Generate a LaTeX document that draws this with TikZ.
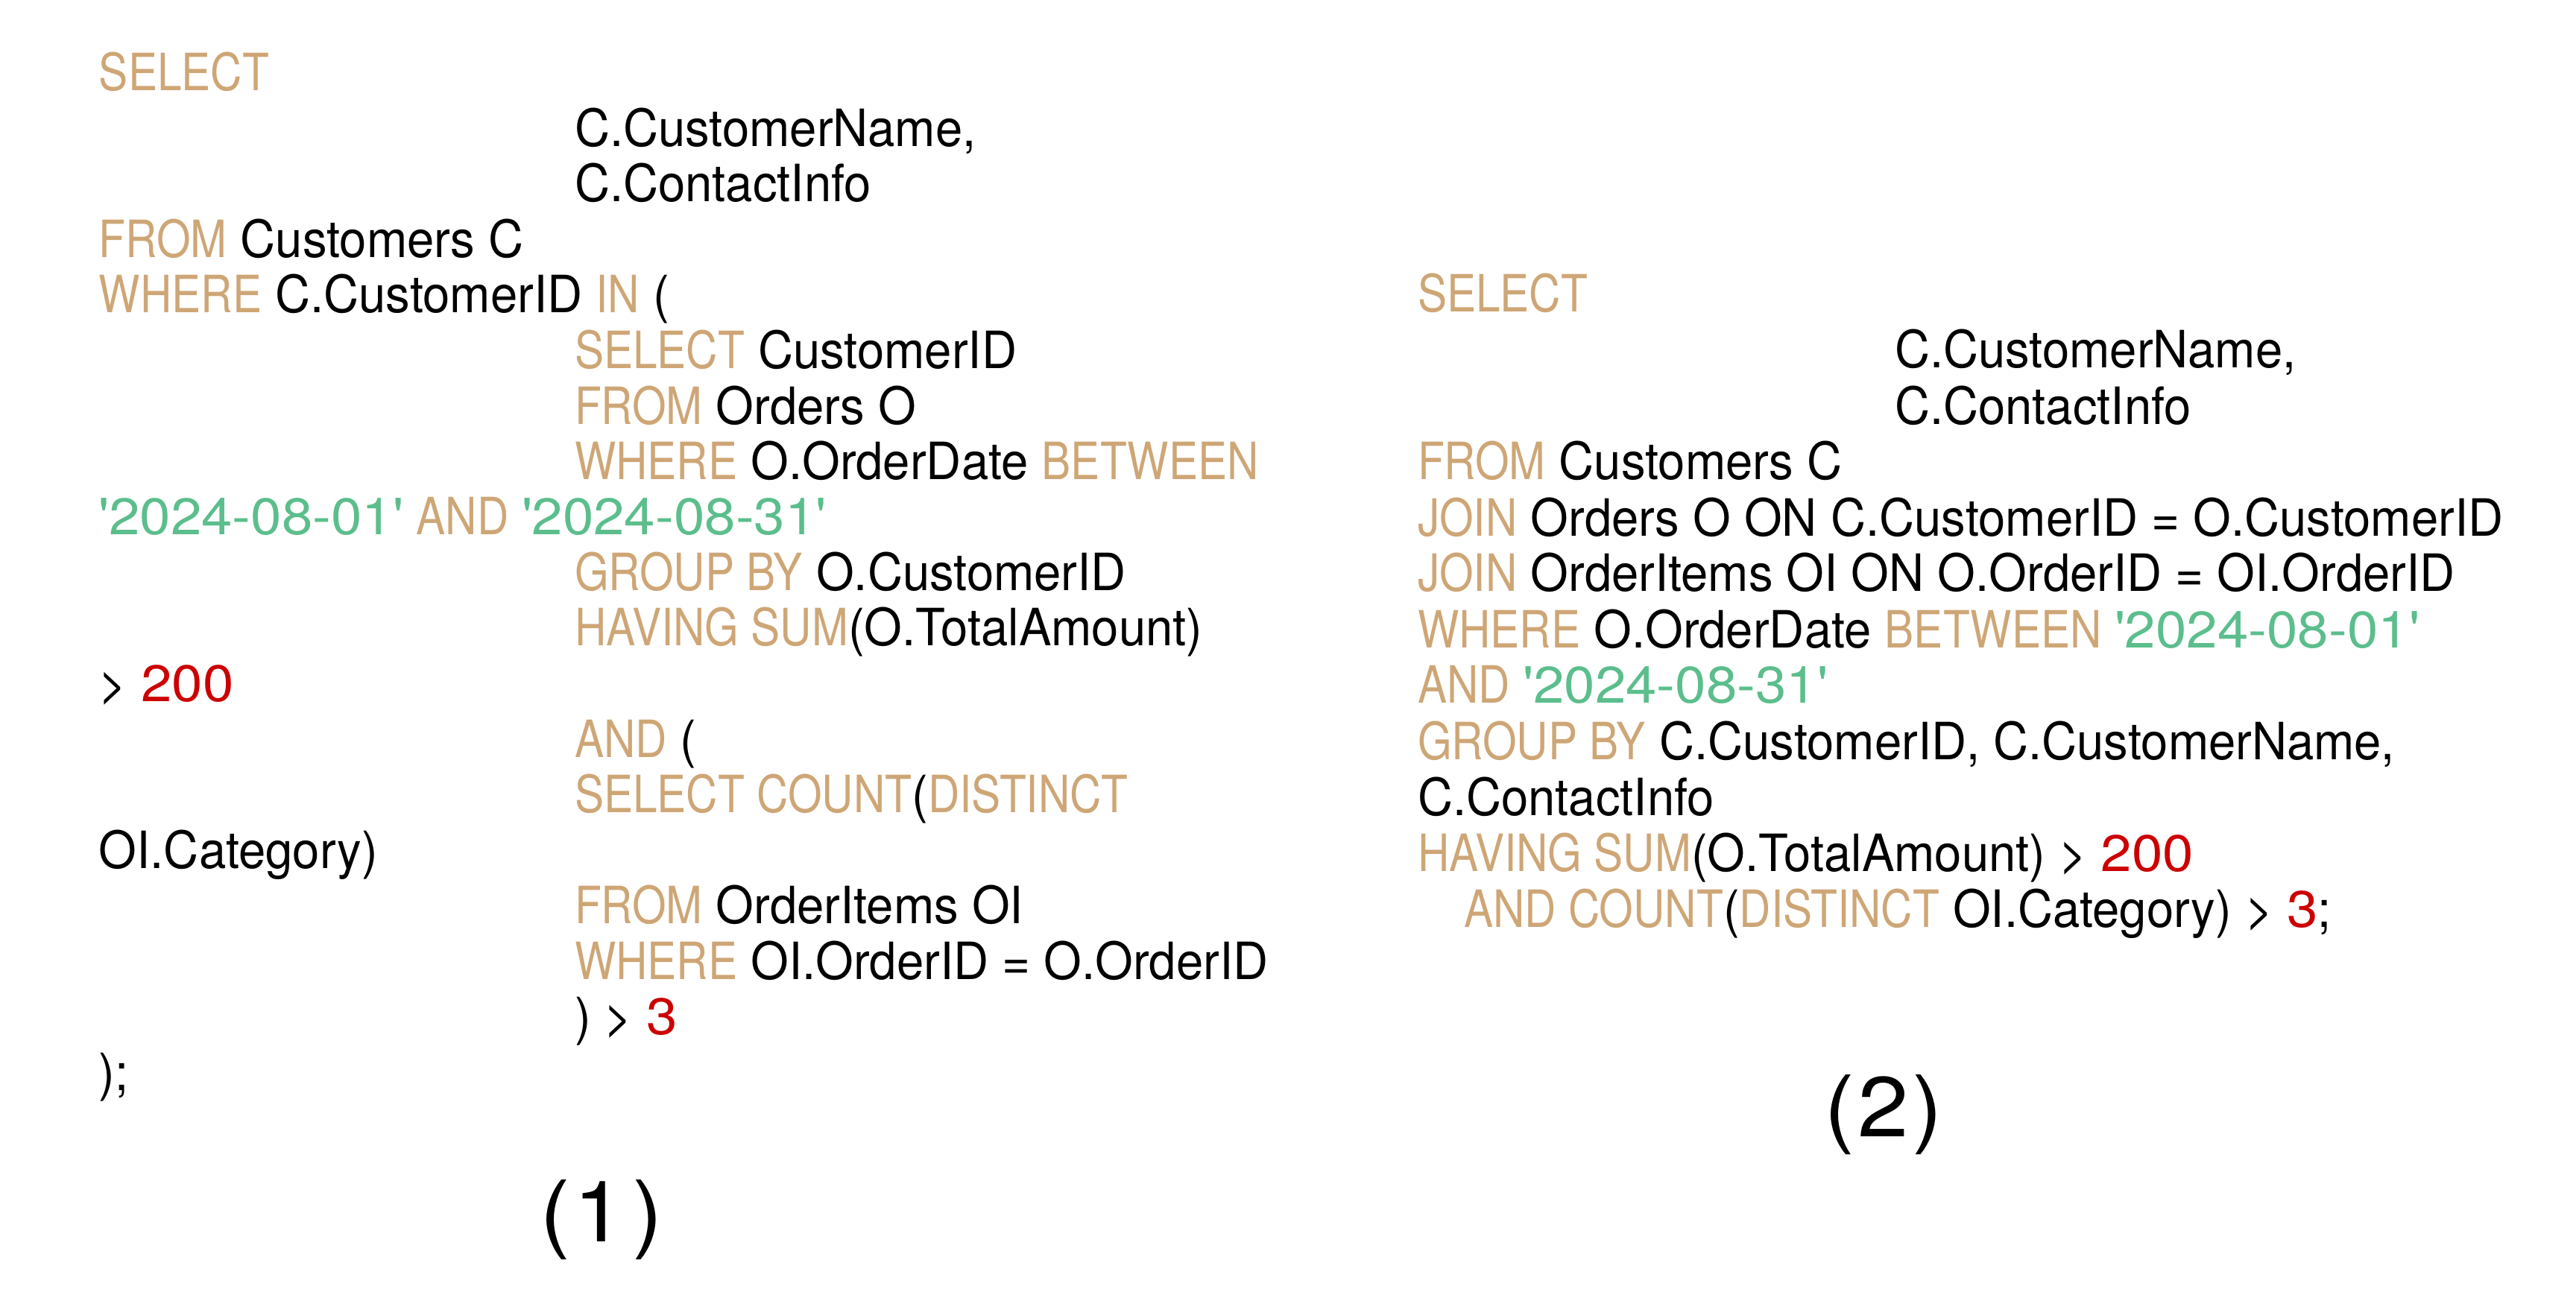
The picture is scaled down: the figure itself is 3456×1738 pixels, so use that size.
\documentclass[tikz,border=0pt]{standalone}
\usepackage{fontspec}
\usepackage{tikz}
\newfontfamily\sqlfont[FakeStretch=0.945]{TeX Gyre Heros}
\newfontfamily\sqlkwfont[FakeStretch=0.85]{TeX Gyre Heros}
\newfontfamily\sqlnumfont[FakeStretch=1.08]{TeX Gyre Heros}
\newfontfamily\tagfont[FakeStretch=1.08]{TeX Gyre Heros}
\definecolor{sqltan}{RGB}{206,166,118}
\definecolor{sqlgreen}{RGB}{91,190,140}
\definecolor{sqlred}{RGB}{204,0,0}
\newcommand{\sqlkw}[1]{{\sqlkwfont\color{sqltan}#1}}
\newcommand{\sqlstr}[1]{{\sqlnumfont\color{sqlgreen}\textquotesingle#1\textquotesingle}}
\newcommand{\sqlnum}[1]{{\sqlnumfont\color{sqlred}#1}}

\begin{document}
\begin{tikzpicture}[x=0.1pt, y=-0.1pt,
   code line/.style={anchor=base west, inner sep=0pt, font=\sqlfont\fontsize{6.9pt}{8pt}\selectfont},
   tag/.style={anchor=base, inner sep=0pt, font=\tagfont\fontsize{11.4pt}{13pt}\selectfont}]
   \useasboundingbox (0,0) rectangle (3456,1738);

   % (1) nested subqueries
   \node[code line] (a0)  at (131,122)  {\sqlkw{SELECT}};
   \node[code line] (a1)  at (769,196.5) {C.CustomerName,};
   \node[code line] (a2)  at (769,271)  {C.ContactInfo};
   \node[code line] (a3)  at (131,345.5) {\sqlkw{FROM} Customers C};
   \node[code line] (a4)  at (131,420)  {\sqlkw{WHERE} C.CustomerID \sqlkw{IN} (};
   \node[code line] (a5)  at (769,494.5) {\sqlkw{SELECT} CustomerID};
   \node[code line] (a6)  at (769,569)  {\sqlkw{FROM} Orders O};
   \node[code line] (a7)  at (769,643.5) {\sqlkw{WHERE} O.OrderDate \sqlkw{BETWEEN}};
   \node[code line] (a8)  at (131,718)  {\sqlstr{2024-08-01} \sqlkw{AND} \sqlstr{2024-08-31}};
   \node[code line] (a9)  at (769,792.5) {\sqlkw{GROUP BY} O.CustomerID};
   \node[code line] (a10) at (769,867)  {\sqlkw{HAVING SUM}(O.TotalAmount)};
   \node[code line] (a11) at (131,941.5) {> \sqlnum{200}};
   \node[code line] (a12) at (769,1016) {\sqlkw{AND} (};
   \node[code line] (a13) at (769,1090.5) {\sqlkw{SELECT COUNT}(\sqlkw{DISTINCT}};
   \node[code line] (a14) at (131,1165) {OI.Category)};
   \node[code line] (a15) at (769,1239.5) {\sqlkw{FROM} OrderItems OI};
   \node[code line] (a16) at (769,1314) {\sqlkw{WHERE} OI.OrderID = O.OrderID};
   \node[code line] (a17) at (769,1388.5) {) > \sqlnum{3}};
   \node[code line] (a18) at (131,1463) {);};
   \node[tag] (one) at (807,1666) {(\kern0.4pt1\kern1pt)};

   % (2) joins
   \node[code line] (b0)  at (1900,419)  {\sqlkw{SELECT}};
   \node[code line] (b1)  at (2540,494)  {C.CustomerName,};
   \node[code line] (b2)  at (2540,569)  {C.ContactInfo};
   \node[code line] (b3)  at (1900,644)  {\sqlkw{FROM} Customers C};
   \node[code line] (b4)  at (1900,719)  {\sqlkw{JOIN} Orders O ON C.CustomerID = O.CustomerID};
   \node[code line] (b5)  at (1900,794)  {\sqlkw{JOIN} OrderItems OI ON O.OrderID = OI.OrderID};
   \node[code line] (b6)  at (1900,869)  {\sqlkw{WHERE} O.OrderDate \sqlkw{BETWEEN} \sqlstr{2024-08-01}};
   \node[code line] (b7)  at (1900,944)  {\sqlkw{AND} \sqlstr{2024-08-31}};
   \node[code line] (b8)  at (1900,1019) {\sqlkw{GROUP BY} C.CustomerID, C.CustomerName,};
   \node[code line] (b9)  at (1900,1094) {C.ContactInfo};
   \node[code line] (b10) at (1900,1169) {\sqlkw{HAVING SUM}(O.TotalAmount) > \sqlnum{200}};
   \node[code line] (b11) at (1962,1244) {\sqlkw{AND COUNT}(\sqlkw{DISTINCT} OI.Category) > \sqlnum{3};};
   \node[tag] (two) at (2527,1525) {(\kern0.4pt2\kern0.4pt)};
\end{tikzpicture}
\end{document}
